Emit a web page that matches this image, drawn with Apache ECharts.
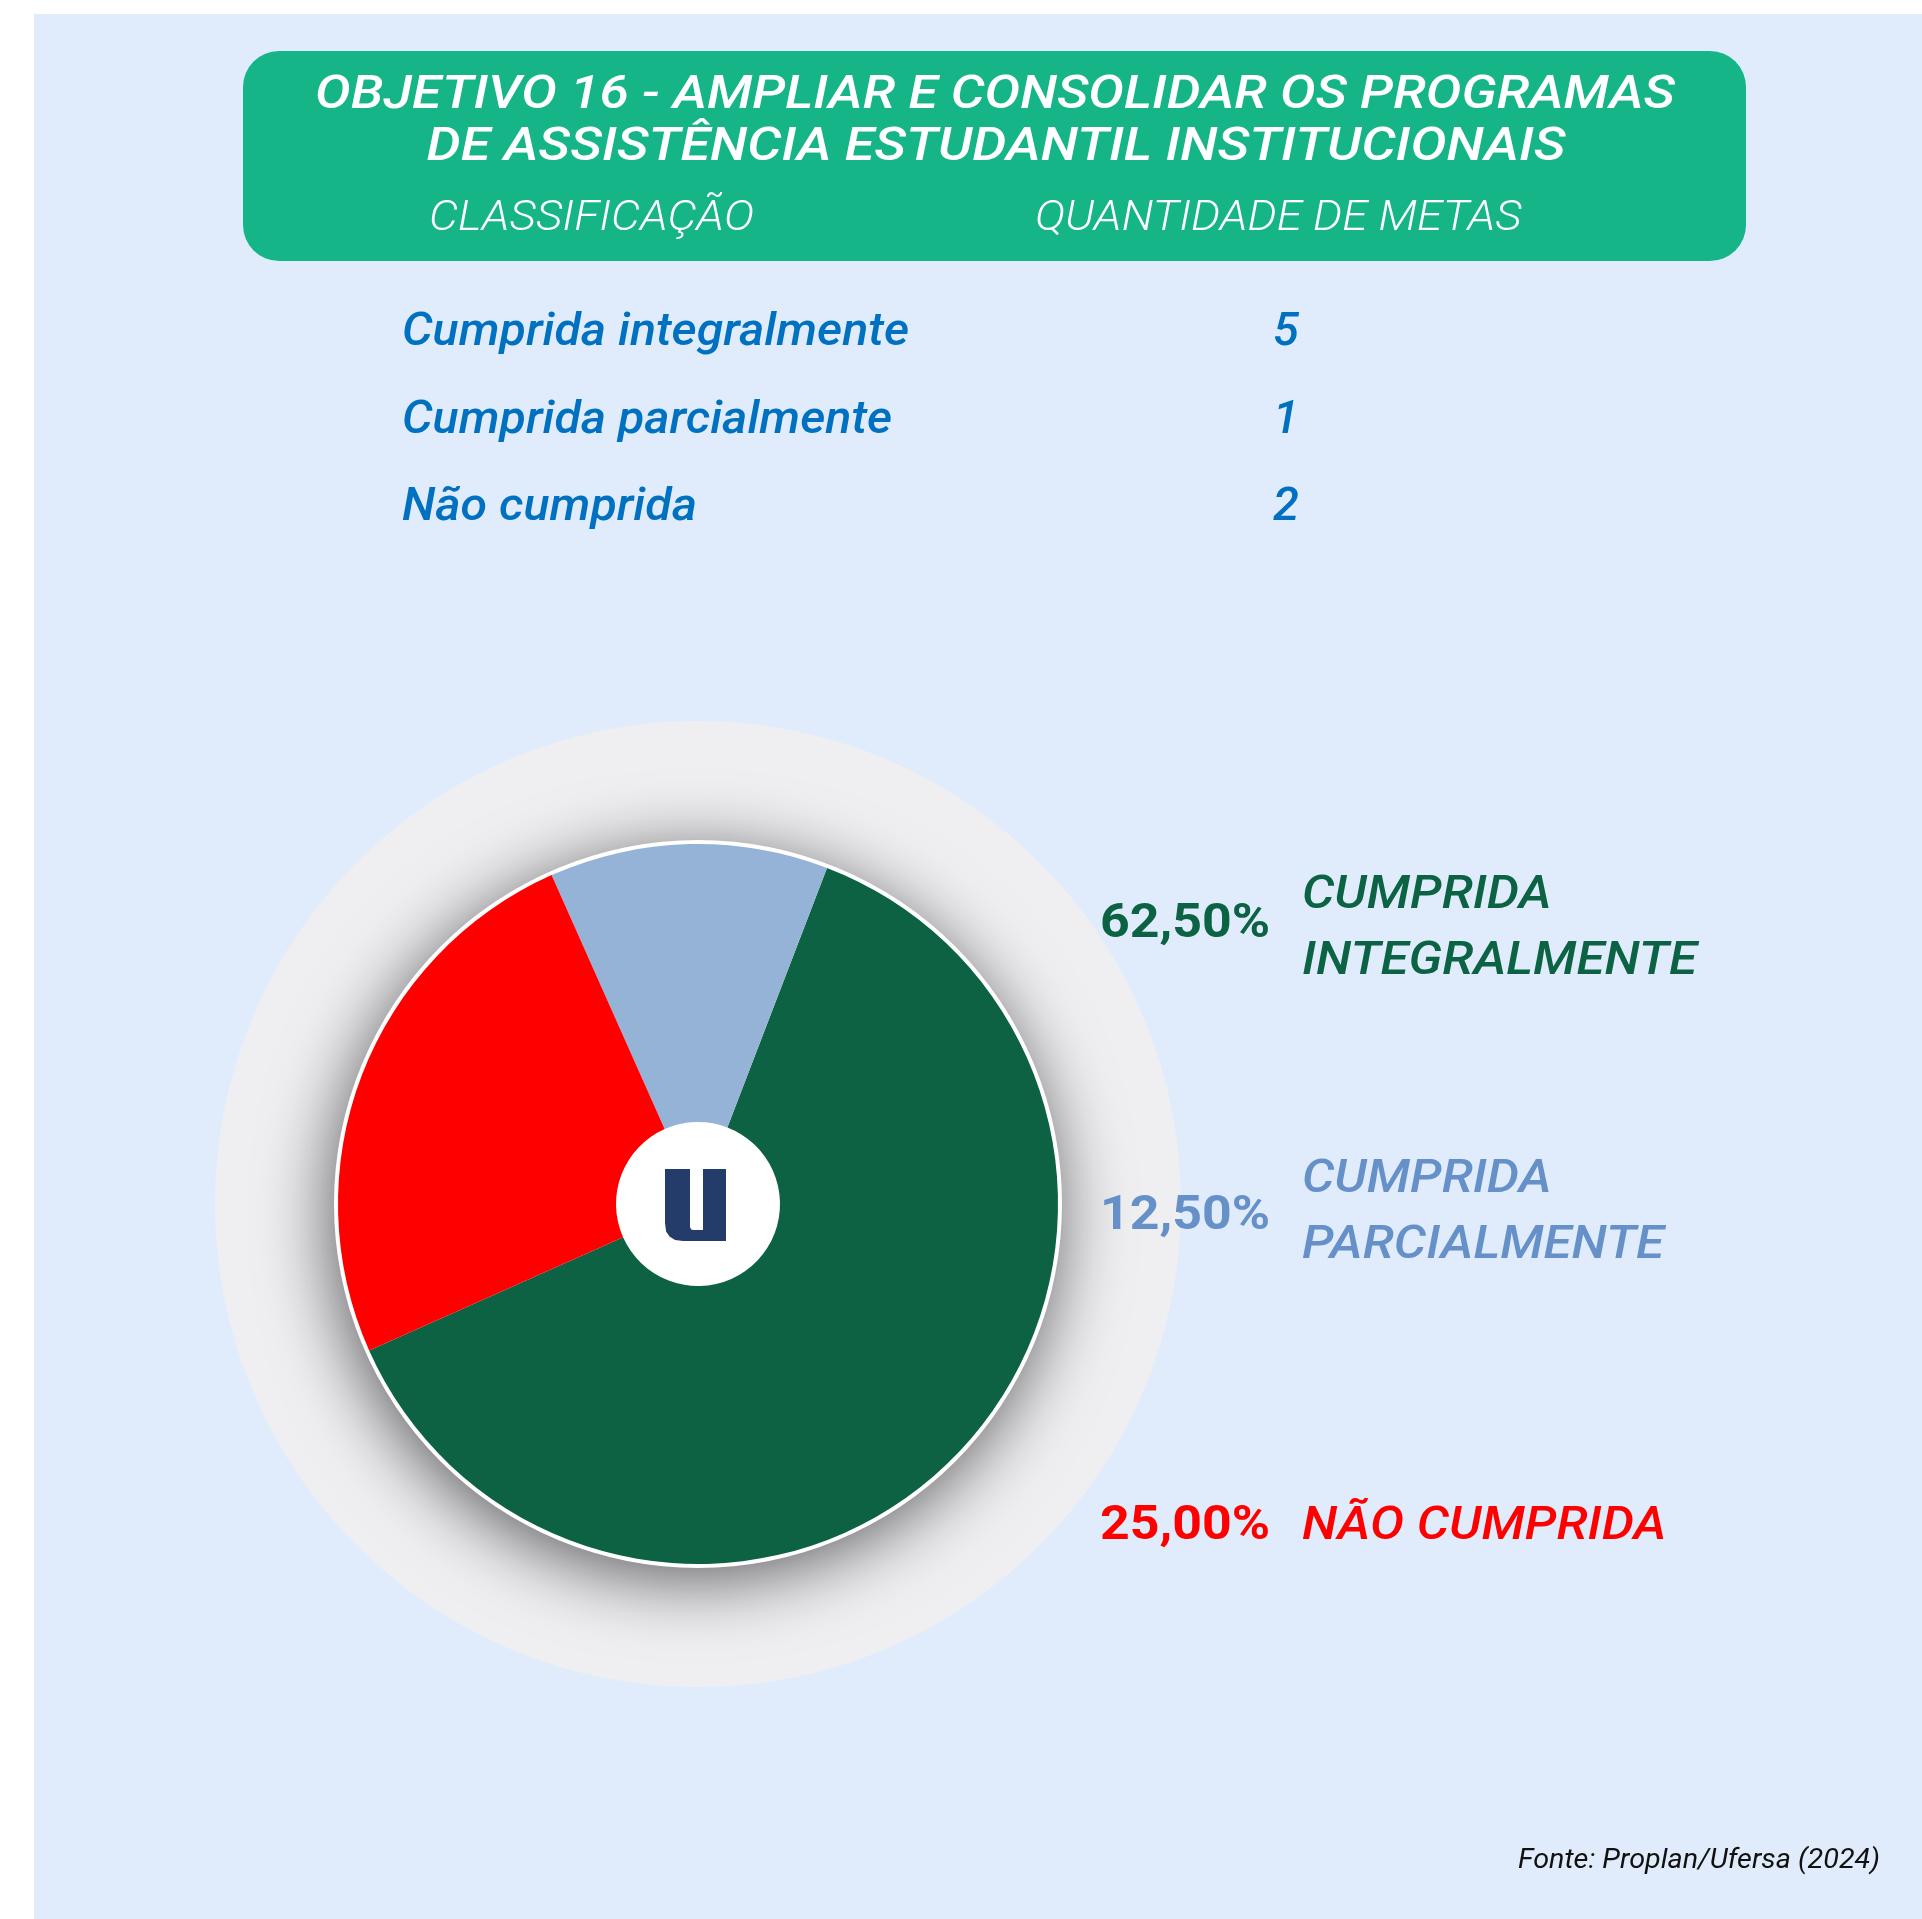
<!DOCTYPE html>
<html>
<head>
<meta charset="utf-8">
<script src="https://cdn.jsdelivr.net/npm/echarts@6/dist/echarts.min.js"></script>
<style>
  html, body { margin: 0; padding: 0; background: #fff; }
  #main { width: 1922px; height: 1919px; }
</style>
</head>
<body>
<div id="main"></div>
<script>
// data
const categories = ['Cumprida integralmente', 'Cumprida parcialmente', 'Não cumprida'];
const metas = [5, 1, 2];
const pieLabels = ['CUMPRIDA\nINTEGRALMENTE', 'CUMPRIDA\nPARCIALMENTE', 'NÃO CUMPRIDA'];
const titleLines = ['OBJETIVO 16 - AMPLIAR E CONSOLIDAR OS PROGRAMAS', 'DE ASSISTÊNCIA ESTUDANTIL INSTITUCIONAIS'];
const tableHeaders = ['CLASSIFICAÇÃO', 'QUANTIDADE DE METAS'];
const sourceNote = 'Fonte: Proplan/Ufersa (2024)';

// styles
const sliceColors = ['#0c6243', '#95b3d7', '#ff0000'];
const labelColors = ['#0c6343', '#6690c8', '#ff0000'];
const tableBlue = '#0070c0';
const CX = 698, CY = 1204;
const DY = 4; // canvas 'middle' sits a little above the cap centre

const total = metas.reduce((a, b) => a + b, 0);
const pct = v => (v / total * 100).toFixed(2).replace('.', ',') + '%';

// the original lettering is spaced out; stretch the text to the same width
const mctx = document.createElement('canvas').getContext('2d');
function fit(text, font, width) {
    mctx.font = font;
    const longest = text.split('\n').reduce((m, s) => Math.max(m, mctx.measureText(s).width), 0);
    return width / longest;
}

function txt(x, y, text, font, color, align, extra) {
    return Object.assign({
        type: 'text', x: x, y: y + DY, z: 100, silent: true,
        style: {
            text: text, font: font, fill: color,
            align: align || 'left', verticalAlign: 'middle'
        }
    }, extra || {});
}

const graphics = [
    { type: 'rect', z: 0, silent: true, shape: { x: 34, y: 14, width: 1888, height: 1905 }, style: { fill: '#e0ecfc' } },
    { type: 'rect', z: 1, silent: true, shape: { x: 243, y: 51, width: 1503, height: 210, r: 36 }, style: { fill: '#15b587' } }
];

// title
const titleFont = 'italic 500 47px Roboto';
graphics.push(txt(995, 92, titleLines[0], titleFont, '#fff', 'center', { scaleX: fit(titleLines[0], titleFont, 1360) }));
graphics.push(txt(996, 144, titleLines[1], titleFont, '#fff', 'center', { scaleX: fit(titleLines[1], titleFont, 1139) }));

// table header
const headFont = 'italic 300 42px Roboto';
const headScale = fit(tableHeaders[0], headFont, 325);
graphics.push(txt(429, 215, tableHeaders[0], headFont, '#fff', 'left', { scaleX: headScale }));
graphics.push(txt(1035, 215, tableHeaders[1], headFont, '#fff', 'left', { scaleX: headScale }));

// table rows
const rowFont = 'italic 500 47px Roboto';
const rowScale = fit(categories[0], rowFont, 507);
const rowY = [329, 417, 504];
categories.forEach((c, i) => {
    graphics.push(txt(402, rowY[i], c, rowFont, tableBlue, 'left', { scaleX: rowScale }));
    graphics.push(txt(1299, rowY[i], String(metas[i]), rowFont, tableBlue, 'right'));
});

// pie labels on the right
const pctFont = 'bold 48px Roboto';
const nameFont = 'italic 500 46px Roboto';
const pctScale = fit(pct(metas[0]), pctFont, 170);
const nameScale = fit(pieLabels[0], nameFont, 395);
const pctY = [921, 1213, 1523];
const nameY = [925, 1209, 1523];
categories.forEach((c, i) => {
    graphics.push(txt(1270, pctY[i], pct(metas[i]), pctFont, labelColors[i], 'right', { scaleX: pctScale }));
    const t = txt(1302, nameY[i], pieLabels[i], nameFont, labelColors[i], 'left', { scaleX: nameScale });
    t.style.lineHeight = 66;
    graphics.push(t);
});

// source
const srcFont = 'italic 400 27px Roboto';
graphics.push(txt(1880, 1857, sourceNote, srcFont, '#111', 'right', { scaleX: fit(sourceNote, srcFont, 362) }));

// logo in the middle of the pie
graphics.push({
    type: 'polygon', z: 110, silent: true,
    shape: {
        points: [[665, 1169], [690, 1169], [690, 1227], [691, 1229.2], [693, 1230], [703, 1230], [703, 1169],
            [726, 1169], [726, 1241], [683, 1241], [675.1, 1239.9], [669.5, 1236.5], [666.1, 1231.4], [665, 1223]]
    },
    style: { fill: '#243c6a' }
});

const chart = echarts.init(document.getElementById('main'));
chart.setOption({
    animation: false,
    backgroundColor: '#fff',
    graphic: graphics,
    series: [
        {
            type: 'pie', z: 2, silent: true, center: [CX, CY], radius: 483,
            label: { show: false }, labelLine: { show: false },
            data: [{ value: 1, itemStyle: { color: '#efeff2' } }]
        },
        {
            type: 'pie', z: 3, silent: true, center: [CX, CY], radius: 364,
            label: { show: false }, labelLine: { show: false },
            data: [{
                value: 1,
                itemStyle: { color: '#fff', shadowBlur: 70, shadowColor: 'rgba(0,0,0,0.6)', shadowOffsetX: -4, shadowOffsetY: 12 }
            }]
        },
        {
            type: 'pie', z: 4, silent: true, center: [CX, CY], radius: [82, 360],
            clockwise: false, startAngle: 204,
            label: { show: false }, labelLine: { show: false },
            emphasis: { disabled: true },
            data: categories.map((c, i) => ({ name: c, value: metas[i], itemStyle: { color: sliceColors[i] } }))
        }
    ]
});
</script>
</body>
</html>
